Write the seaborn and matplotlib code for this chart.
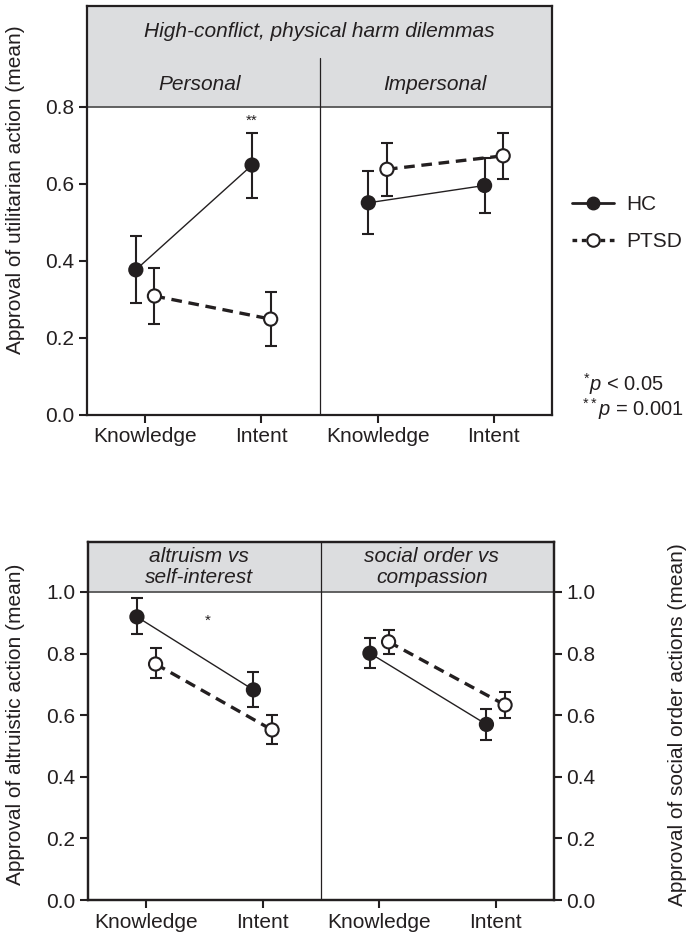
import matplotlib
matplotlib.use("Agg")
import matplotlib.pyplot as plt
from matplotlib.lines import Line2D
import numpy as np
import pandas as pd
import seaborn as sns

# ---------------- data ----------------
conditions = ["Knowledge", "Intent"]
groups = ["HC", "PTSD"]

top_title = "High-conflict, physical harm dilemmas"
top_panels = ["Personal", "Impersonal"]
# order: panel1-Knowledge, panel1-Intent, panel2-Knowledge, panel2-Intent
hc_top_mean = [0.377, 0.649, 0.551, 0.596]
hc_top_lo = [0.290, 0.564, 0.470, 0.524]
hc_top_hi = [0.465, 0.733, 0.634, 0.667]
ptsd_top_mean = [0.309, 0.249, 0.638, 0.673]
ptsd_top_lo = [0.236, 0.180, 0.569, 0.614]
ptsd_top_hi = [0.381, 0.319, 0.706, 0.732]

bot_panels = ["altruism vs\nself-interest", "social order vs\ncompassion"]
hc_bot_mean = [0.919, 0.682, 0.801, 0.570]
hc_bot_lo = [0.862, 0.626, 0.753, 0.518]
hc_bot_hi = [0.979, 0.741, 0.850, 0.619]
ptsd_bot_mean = [0.766, 0.552, 0.838, 0.633]
ptsd_bot_lo = [0.719, 0.505, 0.797, 0.591]
ptsd_bot_hi = [0.817, 0.602, 0.877, 0.674]

top_yticks = [0.0, 0.2, 0.4, 0.6, 0.8]
bot_yticks = [0.0, 0.2, 0.4, 0.6, 0.8, 1.0]

top_ylabel = "Approval of utilitarian action (mean)"
bot_ylabel_left = "Approval of altruistic action (mean)"
bot_ylabel_right = "Approval of social order actions (mean)"

# ---------------- style ----------------
sns.set_style("ticks")
INK = "#231f20"
plt.rcParams["font.family"] = ["Liberation Sans", "DejaVu Sans"]
plt.rcParams["mathtext.fontset"] = "custom"
plt.rcParams["mathtext.rm"] = "Liberation Sans"
plt.rcParams["mathtext.it"] = "Liberation Sans:italic"
plt.rcParams["text.color"] = INK
plt.rcParams["axes.labelcolor"] = INK
plt.rcParams["xtick.color"] = INK
plt.rcParams["ytick.color"] = INK
FS = 15
HEADER_GRAY = "#dcdddf"

OFFSET = {"HC": -0.08, "PTSD": 0.08}


def build_df(hc_m, hc_l, hc_h, pt_m, pt_l, pt_h):
    rows = []
    for g, (m, lo, hi) in {"HC": (hc_m, hc_l, hc_h), "PTSD": (pt_m, pt_l, pt_h)}.items():
        for i in range(4):
            panel = i // 2
            cond = i % 2
            rows.append(dict(group=g, panel=panel, cond=conditions[cond],
                             x=panel * 2 + cond + OFFSET[g],
                             mean=m[i], lo=lo[i], hi=hi[i]))
    return pd.DataFrame(rows)


def draw_panel(ax, df):
    # error bars
    for g in groups:
        d = df[df.group == g]
        ax.errorbar(d["x"], d["mean"], yerr=[d["mean"] - d["lo"], d["hi"] - d["mean"]],
                    fmt="none", ecolor=INK, elinewidth=1.5, capsize=4.5, capthick=1.5,
                    zorder=2)
    # connecting lines
    sns.lineplot(data=df, x="x", y="mean", hue="group", style="group", size="group",
                 units="panel", estimator=None, sort=False,
                 palette={"HC": INK, "PTSD": INK},
                 dashes={"HC": "", "PTSD": (3.2, 2.0)},
                 sizes={"HC": 1.0, "PTSD": 2.4},
                 legend=False, ax=ax, zorder=3)
    # markers
    sns.scatterplot(data=df, x="x", y="mean", hue="group",
                    palette={"HC": INK, "PTSD": "white"},
                    edgecolor=INK, linewidth=1.5, s=90, legend=False, ax=ax, zorder=5)


def style_axes(ax, yticks, ytop):
    ax.set_xlim(-0.5, 3.5)
    ax.set_ylim(0, ytop)
    ax.set_xticks([0, 1, 2, 3])
    ax.set_xticklabels(conditions * 2, fontsize=FS)
    ax.set_yticks(yticks)
    ax.set_yticklabels([f"{v:.1f}" for v in yticks], fontsize=FS)
    ax.set_xlabel("")
    for sp in ax.spines.values():
        sp.set_visible(True)
        sp.set_linewidth(1.6)
        sp.set_color(INK)
    ax.tick_params(axis="both", direction="out", length=6, width=1.5, pad=3)


fig = plt.figure(figsize=(6.97, 9.38), dpi=100)

# ---------------- top panel ----------------
ax1 = fig.add_axes([87 / 697, 1 - 415 / 938, 465 / 697, 409 / 938])
TOP_Y = 1.062
ax1.axhspan(0.8, TOP_Y, color=HEADER_GRAY, zorder=0, lw=0)
ax1.axhline(0.8, color="#555555", lw=1.3, zorder=1)
ax1.axvline(1.5, ymin=0, ymax=0.927 / TOP_Y, color=INK, lw=0.9, zorder=1)
df_top = build_df(hc_top_mean, hc_top_lo, hc_top_hi, ptsd_top_mean, ptsd_top_lo, ptsd_top_hi)
draw_panel(ax1, df_top)
style_axes(ax1, top_yticks, TOP_Y)
ax1.set_ylabel(top_ylabel, fontsize=FS)
ax1.yaxis.set_label_coords(-0.133, 0.55)
ax1.text(1.5, 0.995, top_title, ha="center", va="center", style="italic", fontsize=FS)
ax1.text(0.47, 0.857, top_panels[0], ha="center", va="center", style="italic", fontsize=FS)
ax1.text(2.49, 0.857, top_panels[1], ha="center", va="center", style="italic", fontsize=FS)
ax1.text(1 + OFFSET["HC"], 0.765, "**", ha="center", va="center", fontsize=11)

# ---------------- bottom panel ----------------
ax2 = fig.add_axes([88 / 697, 1 - 900 / 938, 466 / 697, 358 / 938])
BOT_Y = 1.162
ax2.axhspan(1.0, BOT_Y, color=HEADER_GRAY, zorder=0, lw=0)
ax2.axhline(1.0, color="#555555", lw=1.3, zorder=1)
ax2.axvline(1.5, color=INK, lw=0.9, zorder=1)
df_bot = build_df(hc_bot_mean, hc_bot_lo, hc_bot_hi, ptsd_bot_mean, ptsd_bot_lo, ptsd_bot_hi)
draw_panel(ax2, df_bot)
style_axes(ax2, bot_yticks, BOT_Y)
ax2.set_ylabel(bot_ylabel_left, fontsize=FS)
ax2.yaxis.set_label_coords(-0.135, 0.49)
ax2.text(0.45, 1.08, bot_panels[0], ha="center", va="center", style="italic",
         fontsize=FS, linespacing=1.15)
ax2.text(2.45, 1.08, bot_panels[1], ha="center", va="center", style="italic",
         fontsize=FS, linespacing=1.15)
ax2.text(0.53, 0.905, "*", ha="center", va="center", fontsize=11)

ax2r = ax2.twinx()
ax2r.set_ylim(0, BOT_Y)
ax2r.set_yticks(bot_yticks)
ax2r.set_yticklabels([f"{v:.1f}" for v in bot_yticks], fontsize=FS)
ax2r.tick_params(axis="y", direction="out", length=6, width=1.5, pad=3)
for sp in ax2r.spines.values():
    sp.set_linewidth(1.6)
    sp.set_color(INK)
ax2r.set_ylabel(bot_ylabel_right, fontsize=FS)
ax2r.yaxis.set_label_coords(1.245, 0.49)

# ---------------- legend & notes ----------------
handles = [
    Line2D([], [], color=INK, lw=2.0, marker="o", ms=9, mfc=INK, mec=INK),
    Line2D([], [], color=INK, lw=2.4, ls=(0, (1.4, 1.4)), marker="o", ms=9,
           mfc="white", mec=INK, mew=1.5),
]
fig.legend(handles, groups, loc="center left", bbox_to_anchor=(572 / 697, 1 - 223 / 938),
           frameon=False, fontsize=FS, handlelength=2.0, handletextpad=0.6,
           labelspacing=0.85, borderpad=0, borderaxespad=0)

fig.text(583 / 697, 1 - 384 / 938, r"$^{*}p$ < 0.05", ha="left", va="center", fontsize=14.5)
fig.text(582 / 697, 1 - 409 / 938, r"$^{**}p$ = 0.001", ha="left", va="center", fontsize=14.5)

fig.savefig("out.png", dpi=100)
